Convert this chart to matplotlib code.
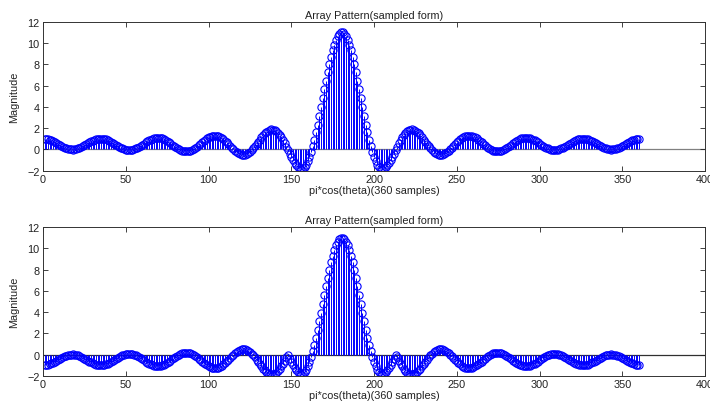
import numpy as np
import matplotlib
matplotlib.use('Agg')
import matplotlib.pyplot as plt

plt.rcParams['font.family'] = ['Liberation Sans', 'DejaVu Sans']
plt.rcParams['font.size'] = 7.5

## samples 1..360 along pi*cos(theta)
samples = np.arange(1, 361)

## top panel : array pattern
pattern_top = [
	1.00, 0.98, 0.95, 0.90, 0.84, 0.77, 0.69, 0.60, 0.51, 0.42,
	0.33, 0.24, 0.17, 0.11, 0.05, 0.02, 0.00, -0.01, 0.01, 0.04,
	0.09, 0.15, 0.22, 0.30, 0.39, 0.48, 0.57, 0.67, 0.75, 0.83,
	0.90, 0.95, 0.99, 1.02, 1.02, 1.01, 0.98, 0.94, 0.88, 0.81,
	0.72, 0.63, 0.54, 0.44, 0.34, 0.25, 0.16, 0.09, 0.03, -0.02,
	-0.05, -0.06, -0.05, -0.02, 0.02, 0.09, 0.16, 0.25, 0.34, 0.45,
	0.55, 0.66, 0.76, 0.85, 0.93, 1.00, 1.06, 1.09, 1.11, 1.10,
	1.07, 1.03, 0.97, 0.89, 0.79, 0.69, 0.58, 0.46, 0.34, 0.23,
	0.12, 0.03, -0.05, -0.12, -0.16, -0.18, -0.18, -0.16, -0.11, -0.04,
	0.05, 0.15, 0.27, 0.40, 0.53, 0.66, 0.80, 0.92, 1.03, 1.13,
	1.21, 1.27, 1.30, 1.30, 1.28, 1.23, 1.16, 1.06, 0.94, 0.80,
	0.65, 0.49, 0.32, 0.16, 0.01, -0.14, -0.26, -0.36, -0.44, -0.49,
	-0.50, -0.49, -0.43, -0.35, -0.23, -0.08, 0.09, 0.28, 0.49, 0.70,
	0.91, 1.12, 1.32, 1.50, 1.64, 1.76, 1.84, 1.88, 1.87, 1.81,
	1.71, 1.56, 1.36, 1.13, 0.86, 0.57, 0.25, -0.07, -0.40, -0.72,
	-1.01, -1.27, -1.49, -1.66, -1.76, -1.80, -1.76, -1.63, -1.42, -1.12,
	-0.74, -0.27, 0.29, 0.91, 1.60, 2.34, 3.13, 3.95, 4.79, 5.63,
	6.45, 7.25, 8.00, 8.69, 9.31, 9.85, 10.30, 10.64, 10.87, 10.99,
	10.99, 10.87, 10.64, 10.30, 9.85, 9.31, 8.69, 8.00, 7.25, 6.45,
	5.63, 4.79, 3.95, 3.13, 2.34, 1.60, 0.91, 0.29, -0.27, -0.74,
	-1.12, -1.42, -1.63, -1.76, -1.80, -1.76, -1.66, -1.49, -1.27, -1.01,
	-0.72, -0.40, -0.07, 0.25, 0.57, 0.86, 1.13, 1.36, 1.56, 1.71,
	1.81, 1.87, 1.88, 1.84, 1.76, 1.64, 1.50, 1.32, 1.12, 0.91,
	0.70, 0.49, 0.28, 0.09, -0.08, -0.23, -0.35, -0.43, -0.49, -0.50,
	-0.49, -0.44, -0.36, -0.26, -0.14, 0.01, 0.16, 0.32, 0.49, 0.65,
	0.80, 0.94, 1.06, 1.16, 1.23, 1.28, 1.30, 1.30, 1.27, 1.21,
	1.13, 1.03, 0.92, 0.80, 0.66, 0.53, 0.40, 0.27, 0.15, 0.05,
	-0.04, -0.11, -0.16, -0.18, -0.18, -0.16, -0.12, -0.05, 0.03, 0.12,
	0.23, 0.34, 0.46, 0.58, 0.69, 0.79, 0.89, 0.97, 1.03, 1.07,
	1.10, 1.11, 1.09, 1.06, 1.00, 0.93, 0.85, 0.76, 0.66, 0.55,
	0.45, 0.34, 0.25, 0.16, 0.09, 0.02, -0.02, -0.05, -0.06, -0.05,
	-0.02, 0.03, 0.09, 0.16, 0.25, 0.34, 0.44, 0.54, 0.63, 0.72,
	0.81, 0.88, 0.94, 0.98, 1.01, 1.02, 1.02, 0.99, 0.95, 0.90,
	0.83, 0.75, 0.67, 0.57, 0.48, 0.39, 0.30, 0.22, 0.15, 0.09,
	0.04, 0.01, -0.01, 0.00, 0.02, 0.05, 0.11, 0.17, 0.24, 0.33,
	0.42, 0.51, 0.60, 0.69, 0.77, 0.84, 0.90, 0.95, 0.98, 1.00,
]

## bottom panel
pattern_bottom = [
	-1.00, -0.98, -0.95, -0.90, -0.84, -0.77, -0.69, -0.60, -0.51, -0.42,
	-0.33, -0.24, -0.17, -0.11, -0.05, -0.02, 0.00, 0.01, -0.01, -0.04,
	-0.09, -0.15, -0.22, -0.30, -0.39, -0.48, -0.57, -0.67, -0.75, -0.83,
	-0.90, -0.95, -0.99, -1.02, -1.02, -1.01, -0.98, -0.94, -0.88, -0.81,
	-0.72, -0.63, -0.54, -0.44, -0.34, -0.25, -0.16, -0.09, -0.03, 0.02,
	0.05, 0.06, 0.05, 0.02, -0.02, -0.09, -0.16, -0.25, -0.34, -0.45,
	-0.55, -0.66, -0.76, -0.85, -0.93, -1.00, -1.06, -1.09, -1.11, -1.10,
	-1.07, -1.03, -0.97, -0.89, -0.79, -0.69, -0.58, -0.46, -0.34, -0.23,
	-0.12, -0.03, 0.05, 0.12, 0.16, 0.18, 0.18, 0.16, 0.11, 0.04,
	-0.05, -0.15, -0.27, -0.40, -0.53, -0.66, -0.80, -0.92, -1.03, -1.13,
	-1.21, -1.27, -1.30, -1.30, -1.28, -1.23, -1.16, -1.06, -0.94, -0.80,
	-0.65, -0.49, -0.32, -0.16, -0.01, 0.14, 0.26, 0.36, 0.44, 0.49,
	0.50, 0.49, 0.43, 0.35, 0.23, 0.08, -0.09, -0.28, -0.49, -0.70,
	-0.91, -1.12, -1.32, -1.50, -1.64, -1.76, -1.84, -1.88, -1.87, -1.81,
	-1.71, -1.56, -1.36, -1.13, -0.86, -0.57, -0.25, -0.07, -0.40, -0.72,
	-1.01, -1.27, -1.49, -1.66, -1.76, -1.80, -1.76, -1.63, -1.42, -1.12,
	-0.74, -0.27, 0.29, 0.91, 1.60, 2.34, 3.13, 3.95, 4.79, 5.63,
	6.45, 7.25, 8.00, 8.69, 9.31, 9.85, 10.30, 10.64, 10.87, 10.99,
	10.99, 10.87, 10.64, 10.30, 9.85, 9.31, 8.69, 8.00, 7.25, 6.45,
	5.63, 4.79, 3.95, 3.13, 2.34, 1.60, 0.91, 0.29, -0.27, -0.74,
	-1.12, -1.42, -1.63, -1.76, -1.80, -1.76, -1.66, -1.49, -1.27, -1.01,
	-0.72, -0.40, -0.07, -0.25, -0.57, -0.86, -1.13, -1.36, -1.56, -1.71,
	-1.81, -1.87, -1.88, -1.84, -1.76, -1.64, -1.50, -1.32, -1.12, -0.91,
	-0.70, -0.49, -0.28, -0.09, 0.08, 0.23, 0.35, 0.43, 0.49, 0.50,
	0.49, 0.44, 0.36, 0.26, 0.14, -0.01, -0.16, -0.32, -0.49, -0.65,
	-0.80, -0.94, -1.06, -1.16, -1.23, -1.28, -1.30, -1.30, -1.27, -1.21,
	-1.13, -1.03, -0.92, -0.80, -0.66, -0.53, -0.40, -0.27, -0.15, -0.05,
	0.04, 0.11, 0.16, 0.18, 0.18, 0.16, 0.12, 0.05, -0.03, -0.12,
	-0.23, -0.34, -0.46, -0.58, -0.69, -0.79, -0.89, -0.97, -1.03, -1.07,
	-1.10, -1.11, -1.09, -1.06, -1.00, -0.93, -0.85, -0.76, -0.66, -0.55,
	-0.45, -0.34, -0.25, -0.16, -0.09, -0.02, 0.02, 0.05, 0.06, 0.05,
	0.02, -0.03, -0.09, -0.16, -0.25, -0.34, -0.44, -0.54, -0.63, -0.72,
	-0.81, -0.88, -0.94, -0.98, -1.01, -1.02, -1.02, -0.99, -0.95, -0.90,
	-0.83, -0.75, -0.67, -0.57, -0.48, -0.39, -0.30, -0.22, -0.15, -0.09,
	-0.04, -0.01, 0.01, 0.00, -0.02, -0.05, -0.11, -0.17, -0.24, -0.33,
	-0.42, -0.51, -0.60, -0.69, -0.77, -0.84, -0.90, -0.95, -0.98, -1.00,
]

x_ticks = [0, 50, 100, 150, 200, 250, 300, 350, 400]
y_ticks = [-2, 0, 2, 4, 6, 8, 10, 12]
title_text = 'Array Pattern(sampled form)'
xlabel_text = 'pi*cos(theta)(360 samples)'
ylabel_text = 'Magnitude'


## matlab-ish stem panel
def stemPanel(ax, vals, base_color):
	markerline, stemlines, baseline = ax.stem(samples, vals, linefmt='-', markerfmt='o', basefmt=' ')
	plt.setp(stemlines, linewidth=0.7, color='#0000ff')
	plt.setp(markerline, markersize=5.2, markerfacecolor='none',
	         markeredgecolor='#0000ff', markeredgewidth=0.8)
	ax.axhline(0, color=base_color, linewidth=0.9, zorder=1.5)
	ax.set_xlim(0, 400)
	ax.set_ylim(-2, 12)
	ax.set_xticks(x_ticks)
	ax.set_yticks(y_ticks)
	ax.tick_params(direction='in', top=True, right=True, length=3.5, width=0.6,
	               labelsize=7.8, pad=2.5, colors='#222222')
	for sp in ax.spines.values():
		sp.set_linewidth(0.7)
		sp.set_color('#333333')
	ax.set_title(title_text, fontsize=7.8, pad=3, color='#222222')
	ax.set_xlabel(xlabel_text, fontsize=7.8, labelpad=0.5, color='#222222')
	ax.set_ylabel(ylabel_text, fontsize=7.8, labelpad=6, color='#222222')


fig = plt.figure(figsize=(7.1, 4.02), dpi=100)
ax1 = fig.add_axes([0.0606, 0.5729, 0.9324, 0.3706])
ax2 = fig.add_axes([0.0606, 0.0629, 0.9324, 0.3692])

stemPanel(ax1, pattern_top, '#808080')
stemPanel(ax2, pattern_bottom, '#303030')

fig.savefig('out.png', dpi=100)
